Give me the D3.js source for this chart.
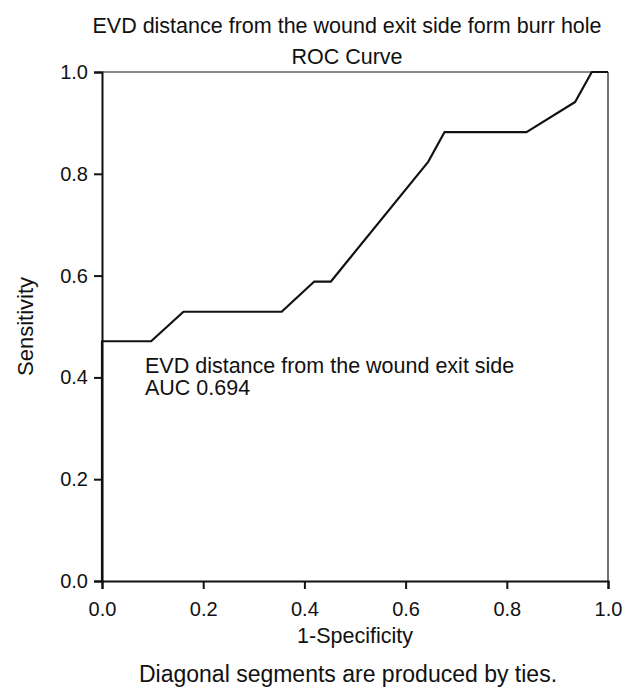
<!DOCTYPE html>
<html>
<head>
<meta charset="utf-8">
<script src="https://cdn.jsdelivr.net/npm/d3@7"></script>
<style>
  body { margin: 0; background: #fff; }
  svg { display: block; font-family: "Liberation Sans", Arial, sans-serif; }
</style>
</head>
<body>
<svg width="635" height="687"></svg>
<script>
// ROC curve
var fpr = [0, 0, 0.097, 0.161, 0.355, 0.419, 0.452, 0.645, 0.677, 0.839, 0.935, 0.968, 1];
var tpr = [0, 0.471, 0.471, 0.529, 0.529, 0.588, 0.588, 0.824, 0.882, 0.882, 0.941, 1, 1];
var tickVals = [0, 0.2, 0.4, 0.6, 0.8, 1.0];
var titleLines = ["EVD distance from the wound exit side form burr hole", "ROC Curve"];
var legendLines = ["EVD distance from the wound exit side", "AUC 0.694"];

var svg = d3.select("svg"),
    margin = {top: 72, right: 27, bottom: 106, left: 102},
    width = +svg.attr("width") - margin.left - margin.right,
    height = +svg.attr("height") - margin.top - margin.bottom;

var g = svg.append("g").attr("transform", "translate(" + margin.left + "," + margin.top + ")");

var x = d3.scaleLinear().domain([0, 1]).range([0, width]);
var y = d3.scaleLinear().domain([0, 1]).range([height, 0]);

// frame top / right
g.append("line")
    .attr("x1", 0).attr("x2", width).attr("y1", 0).attr("y2", 0)
    .attr("stroke", "#8a8a8a").attr("stroke-width", 2);
g.append("line")
    .attr("x1", width).attr("x2", width).attr("y1", 0).attr("y2", height)
    .attr("stroke", "#444").attr("stroke-width", 1.5);

var xAxis = g.append("g")
    .attr("transform", "translate(0," + height + ")")
    .call(d3.axisBottom(x).tickValues(tickVals).tickFormat(d3.format(".1f")).tickSize(8).tickPadding(13));
var yAxis = g.append("g")
    .call(d3.axisLeft(y).tickValues(tickVals).tickFormat(d3.format(".1f")).tickSize(8).tickPadding(6));

[xAxis, yAxis].forEach(function(a) {
    a.select(".domain").attr("stroke", "#111").attr("stroke-width", 2);
    a.selectAll(".tick line").attr("stroke", "#111").attr("stroke-width", 2);
    a.selectAll(".tick text").attr("fill", "#111")
        .style("font-family", "'Liberation Sans', Arial, sans-serif").style("font-size", "20px");
});

var line = d3.line()
    .x(function(d) { return x(d[0]); })
    .y(function(d) { return y(d[1]); });

g.append("path")
    .datum(d3.zip(fpr, tpr))
    .attr("fill", "none")
    .attr("stroke", "#111")
    .attr("stroke-width", 2.2)
    .attr("stroke-linejoin", "round")
    .attr("d", line);

// legend text inside plot
g.selectAll(".legend")
    .data(legendLines)
    .enter().append("text")
    .attr("x", 43)
    .attr("y", function(d, i) { return 301 + i * 22; })
    .attr("fill", "#111")
    .style("font-size", "21.5px")
    .text(function(d) { return d; });

svg.selectAll(".title")
    .data(titleLines)
    .enter().append("text")
    .attr("x", 347)
    .attr("y", function(d, i) { return 33 + i * 31; })
    .attr("text-anchor", "middle")
    .attr("fill", "#111")
    .style("font-size", "21.5px")
    .text(function(d) { return d; });

svg.append("text")
    .attr("x", 355)
    .attr("y", 643)
    .attr("text-anchor", "middle")
    .attr("fill", "#111")
    .style("font-size", "21.5px")
    .text("1-Specificity");

svg.append("text")
    .attr("transform", "translate(33," + (margin.top + height / 2) + ") rotate(-90)")
    .attr("text-anchor", "middle")
    .attr("fill", "#111")
    .style("font-size", "22px")
    .text("Sensitivity");

svg.append("text")
    .attr("x", 348)
    .attr("y", 682)
    .attr("text-anchor", "middle")
    .attr("fill", "#111")
    .style("font-size", "23px")
    .text("Diagonal segments are produced by ties.");
</script>
</body>
</html>
